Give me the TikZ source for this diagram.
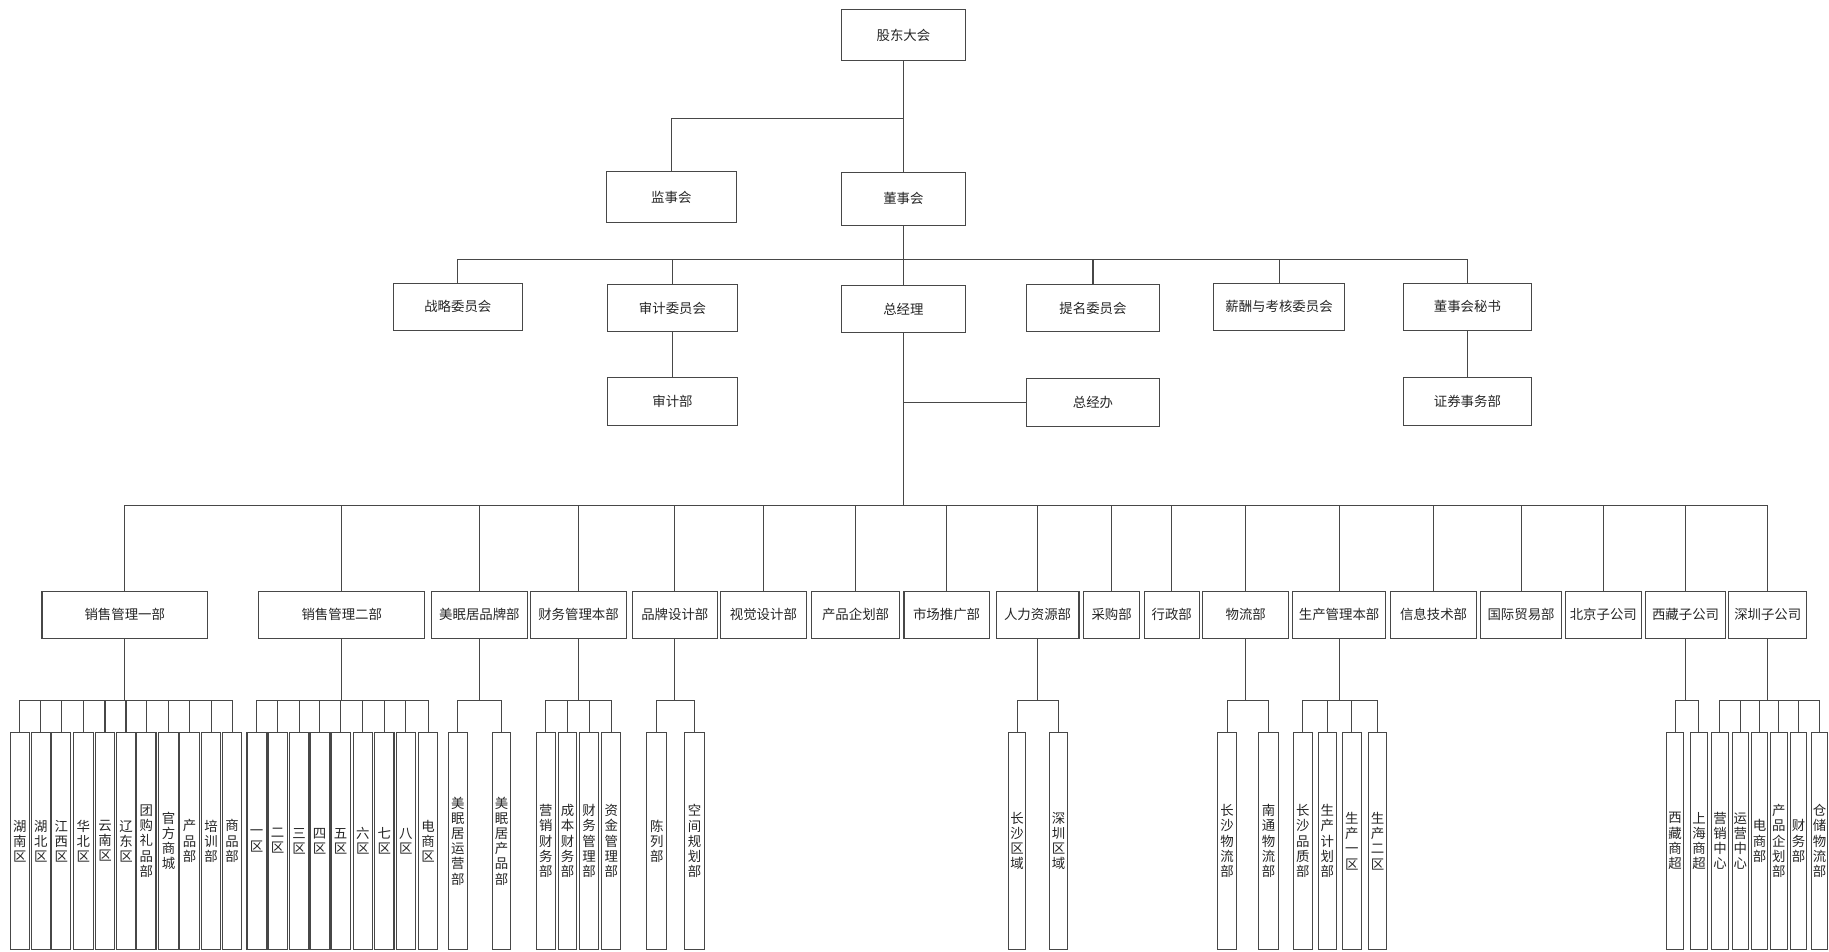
\documentclass[tikz,border=0pt]{standalone}
\usepackage{fontspec}
\newfontfamily\cjk{Noto Sans CJK SC}
\tikzset{
  ln/.style={draw=black!72, line width=0.9pt},
  box/.style={ln, inner sep=0pt, font=\cjk\fontsize{11.5}{13}\selectfont, text=black!85, align=center, minimum height=40pt},
  sub/.style={box, minimum height=186pt},
}
\begin{document}
\begin{tikzpicture}[x=1pt,y=1pt]
\fill[white] (0,0) rectangle (1568,-816);
\useasboundingbox (0,0) rectangle (1568,-816);
% top levels
\node[box, minimum width=107pt, minimum height=44pt] (gd) at (774.5,-30) {股东大会};
\node[box, minimum width=111pt, minimum height=44pt] (js) at (575.5,-169) {监事会};
\node[box, minimum width=107pt, minimum height=45pt] (dsh) at (774.5,-170.5) {董事会};
\draw[ln] (gd.south) -- (dsh.north);
\draw[ln] (gd.south) -- ++(0,-49) -| (js.north);
% row 2
\node[box, minimum width=111pt] (zl) at (392.5,-263) {战略委员会};
\node[box, minimum width=111pt] (sj) at (576.5,-264) {审计委员会};
\node[box, minimum width=107pt] (zjl) at (774.5,-265) {总经理};
\node[box, minimum width=114pt] (tm) at (937,-264) {提名委员会};
\node[box, minimum width=113pt] (xc) at (1096.5,-263) {薪酬与考核委员会};
\node[box, minimum width=110pt] (ms) at (1258,-263) {董事会秘书};
\foreach \c in {zl,sj,zjl,tm,xc,ms}{\draw[ln] (dsh.south) -- ++(0,-29) -| (\c.north);}
\node[box, minimum width=111pt, minimum height=41pt] (sjb) at (576.5,-344) {审计部};
\node[box, minimum width=114pt, minimum height=41pt] (zjb) at (937,-345) {总经办};
\node[box, minimum width=110pt, minimum height=41pt] (zq) at (1258,-344) {证券事务部};
\draw[ln] (sj.south) -- (sjb.north);
\draw[ln] (ms.south) -- (zq.north);
\draw[ln] (zjb.west) -- (zjl.south |- zjb.west);
% row 3
\foreach \x/\w/\nm/\lbl in {107/142/r1/销售管理一部, 293/142/r2/销售管理二部, 411/82/r3/美眠居品牌部,
  496/82/r4/财务管理本部, 578.5/73/r5/品牌设计部, 654.5/73/r6/视觉设计部, 733.5/75/r7/产品企划部,
  811.5/73/r8/市场推广部, 889.5/71/r9/人力资源部, 953/48/r10/采购部, 1004.5/47/r11/行政部,
  1068/74/r12/物流部, 1148/80/r13/生产管理本部, 1229/74/r14/信息技术部, 1304/70/r15/国际贸易部,
  1374.5/65/r16/北京子公司, 1445/68/r17/西藏子公司, 1515.5/67/r18/深圳子公司}{
  \node[box, minimum width=\w pt] (\nm) at (\x,-527) {\lbl};
  \draw[ln] (zjl.south) -- ++(0,-148) -| (\nm.north);
}
% bottom groups
\foreach \x/\nm/\lbl in {17/a1/{湖\\南\\区}, 35/a2/{湖\\北\\区}, 52.5/a3/{江\\西\\区}, 71.5/a4/{华\\北\\区},
  90/a5/{云\\南\\区}, 108/a6/{辽\\东\\区}, 125.5/a7/{团\\购\\礼\\品\\部}, 144.5/a8/{官\\方\\商\\城},
  162.5/a9/{产\\品\\部}, 181/a10/{培\\训\\部}, 199/a11/{商\\品\\部}}{
  \node[sub, minimum width=16.5pt] (\nm) at (\x,-721) {\lbl};
  \draw[ln] (r1.south) -- ++(0,-53) -| (\nm.north);
}
\foreach \x/\nm/\lbl in {220/b1/{一\\区}, 238/b2/{二\\区}, 256.5/b3/{三\\区}, 274/b4/{四\\区},
  292/b5/{五\\区}, 311/b6/{六\\区}, 329.5/b7/{七\\区}, 348/b8/{八\\区}, 367/b9/{电\\商\\区}}{
  \node[sub, minimum width=16.5pt] (\nm) at (\x,-721) {\lbl};
  \draw[ln] (r2.south) -- ++(0,-53) -| (\nm.north);
}
\foreach \x/\nm/\lbl in {392.5/c1/{美\\眠\\居\\运\\营\\部}, 430/c2/{美\\眠\\居\\产\\品\\部}}{
  \node[sub, minimum width=16pt] (\nm) at (\x,-721) {\lbl};
  \draw[ln] (r3.south) -- ++(0,-53) -| (\nm.north);
}
\foreach \x/\nm/\lbl in {468/d1/{营\\销\\财\\务\\部}, 486.5/d2/{成\\本\\财\\务\\部}, 505/d3/{财\\务\\管\\理\\部}, 524/d4/{资\\金\\管\\理\\部}}{
  \node[sub, minimum width=16pt] (\nm) at (\x,-721) {\lbl};
  \draw[ln] (r4.south) -- ++(0,-53) -| (\nm.north);
}
\foreach \x/\nm/\lbl in {563/e1/{陈\\列\\部}, 595.5/e2/{空\\间\\规\\划\\部}}{
  \node[sub, minimum width=17pt] (\nm) at (\x,-721) {\lbl};
  \draw[ln] (r5.south) -- ++(0,-53) -| (\nm.north);
}
\foreach \x/\nm/\lbl in {872/f1/{长\\沙\\区\\域}, 907.5/f2/{深\\圳\\区\\域}}{
  \node[sub, minimum width=15pt] (\nm) at (\x,-721) {\lbl};
  \draw[ln] (r9.south) -- ++(0,-53) -| (\nm.north);
}
\foreach \x/\nm/\lbl in {1052/g1/{长\\沙\\物\\流\\部}, 1087.5/g2/{南\\通\\物\\流\\部}}{
  \node[sub, minimum width=16.5pt] (\nm) at (\x,-721) {\lbl};
  \draw[ln] (r12.south) -- ++(0,-53) -| (\nm.north);
}
\foreach \x/\nm/\lbl in {1117/h1/{长\\沙\\品\\质\\部}, 1138/h2/{生\\产\\计\\划\\部}, 1159/h3/{生\\产\\一\\区}, 1181/h4/{生\\产\\二\\区}}{
  \node[sub, minimum width=16pt] (\nm) at (\x,-721) {\lbl};
  \draw[ln] (r13.south) -- ++(0,-53) -| (\nm.north);
}
\foreach \x/\nm/\lbl in {1436/k1/{西\\藏\\商\\超}, 1456.5/k2/{上\\海\\商\\超}}{
  \node[sub, minimum width=14.5pt] (\nm) at (\x,-721) {\lbl};
  \draw[ln] (r17.south) -- ++(0,-53) -| (\nm.north);
}
\foreach \x/\nm/\lbl in {1474.5/m1/{营\\销\\中\\心}, 1492/m2/{运\\营\\中\\心}, 1508.5/m3/{电\\商\\部},
  1525/m4/{产\\品\\企\\划\\部}, 1542/m5/{财\\务\\部}, 1560/m6/{仓\\储\\物\\流\\部}}{
  \node[sub, minimum width=14pt] (\nm) at (\x,-721) {\lbl};
  \draw[ln] (r18.south) -- ++(0,-53) -| (\nm.north);
}
\end{tikzpicture}
\end{document}
